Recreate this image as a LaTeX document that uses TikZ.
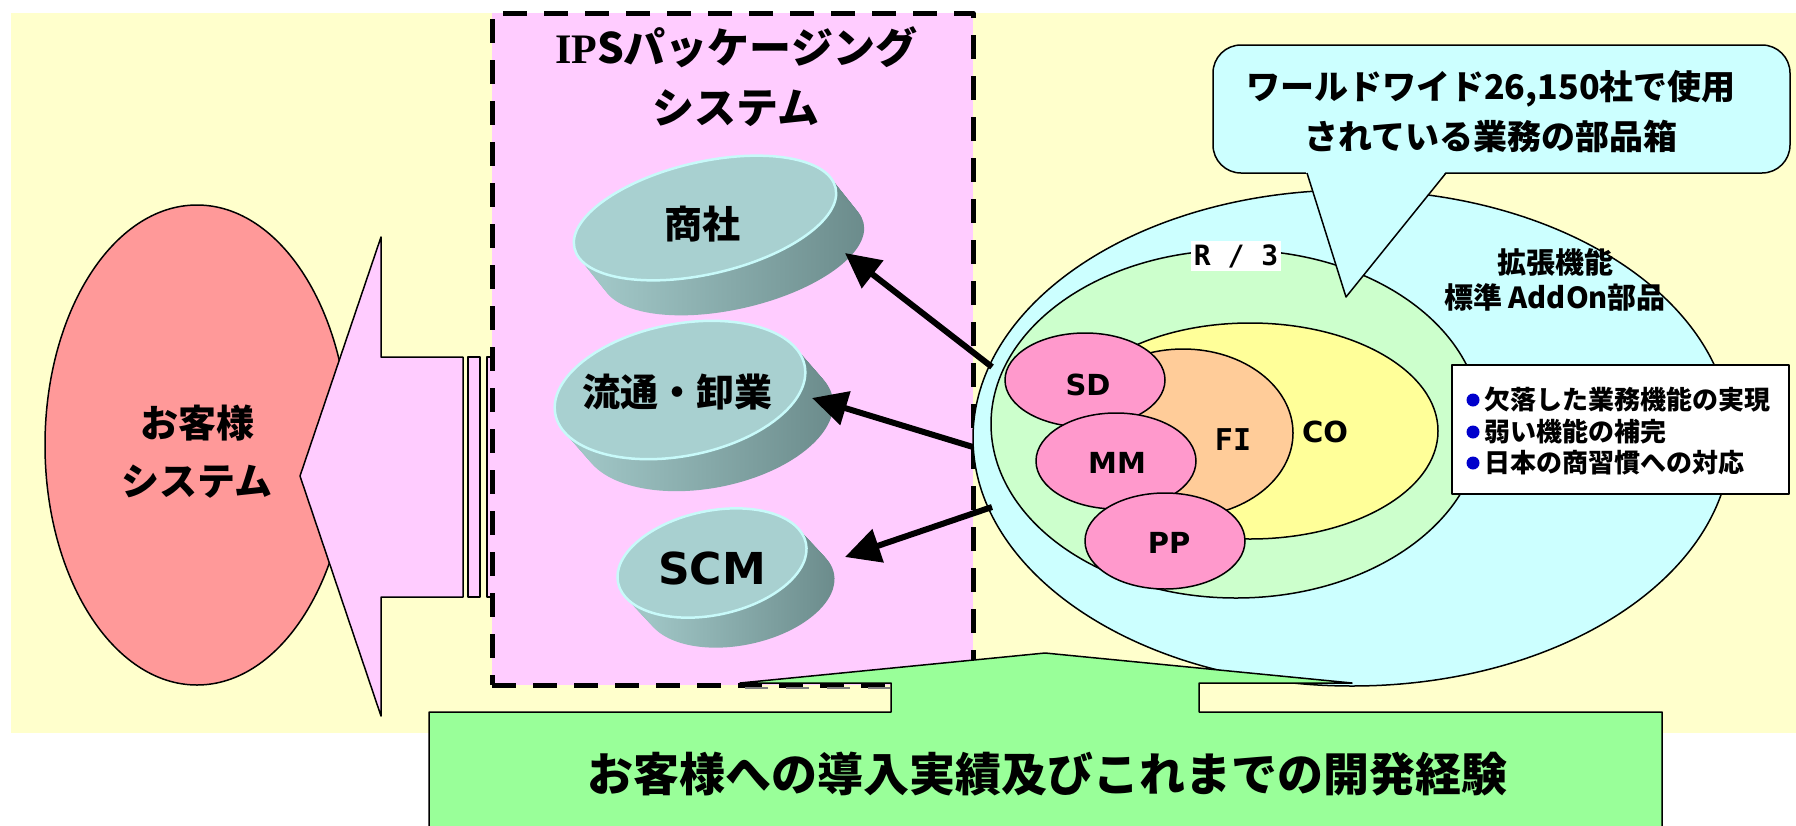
\documentclass[tikz,border=0pt]{standalone}
\usepackage{fontspec}
\setmainfont{Noto Sans CJK JP}
\newfontfamily\dvs{DejaVu Sans}
\newfontfamily\dvm{DejaVu Sans Mono}
\newfontfamily\lser{Liberation Serif}
\usetikzlibrary{arrows.meta,shapes.geometric}
\definecolor{bgy}{HTML}{FFFFCC}
\definecolor{pinkf}{HTML}{FFCCFF}
\definecolor{redf}{HTML}{FF9999}
\definecolor{cyanf}{HTML}{CCFFFF}
\definecolor{greenf}{HTML}{CCFFCC}
\definecolor{yelf}{HTML}{FFFF99}
\definecolor{orgf}{HTML}{FFCC99}
\definecolor{sapf}{HTML}{FF99CC}
\definecolor{boxg}{HTML}{99FF99}
\definecolor{tealtop}{HTML}{A8D0D0}
\definecolor{tealrim}{HTML}{C8FAFA}
\definecolor{teall}{HTML}{A2C8C8}
\definecolor{teald}{HTML}{6A8A8A}
\definecolor{bullb}{HTML}{0000CC}
\newcommand\fsz[2]{\fontsize{#1}{#2}\selectfont}
% cylinder: #1 name, #2 cx, #3 cy, #4 a, #5 b, #6 angle, #7 dx, #8 dy
\newcommand\mycyl[8]{%
  \foreach \k in {0,...,24}{%
    \begin{scope}[shift={({#2+#7*\k/24},{#3+#8*\k/24})}, rotate=#6]
      \shade[left color=teall, right color=teald] (0,0) ellipse [x radius=#4pt, y radius=#5pt];
    \end{scope}}%
  \node[ellipse, rotate=#6, fill=tealtop, draw=tealrim, line width=2.5pt,
        minimum width=2*#4pt, minimum height=2*#5pt, inner sep=0pt] (#1) at (#2,#3) {};%
}
\begin{document}
\begin{tikzpicture}[x=1pt,y=-1pt,line join=round,
  outl/.style={draw=black, line width=1.5pt},
  oval/.style={ellipse, outl, inner sep=0pt},
  jtxt/.style={inner sep=0pt, align=center, font=\bfseries},
  bigarrow/.style={line width=6pt, -{Triangle[length=35pt, width=34pt]}},
  bul/.style={circle, fill=bullb, inner sep=0pt, minimum size=13pt}]
\useasboundingbox (0,0) rectangle (1796,825);
\fill[white] (0,0) rectangle (1796,825);
\fill[bgy] (11,13) rectangle (1796,733);

% customer system
\node[oval, fill=redf, minimum width=304pt, minimum height=480pt] (cust) at (197,445) {};
\node[jtxt, font=\bfseries\fsz{38}{58}] (custt) at (197,452) {お客様\\システム};

% big pink arrow and bars
\draw[outl, fill=pinkf] (300,476) -- (381,237) -- (381,357) -- (463,357) -- (463,597)
   -- (381,597) -- (381,716) -- cycle;
\draw[outl, fill=pinkf] (468,357) rectangle (480,597);
\draw[outl, fill=pinkf] (487,357) rectangle (493,597);

% package box
\node[fill=pinkf, draw=black, line width=5pt, dash pattern=on 24pt off 17pt,
      minimum width=481pt, minimum height=672pt, inner sep=0pt] (pkg) at (732.5,349) {};
\node[jtxt, font=\bfseries\fsz{42}{60}] (pkgt) at (736,77) {{\lser\bfseries IP}Sパッケージング\\システム};

% cylinders
\mycyl{c1}{705}{218}{134}{56}{13}{28}{35}
\mycyl{c2}{680}{390}{127}{66}{11}{28}{32}
\mycyl{c3}{712}{563}{96}{52}{12}{28}{30}
\node[jtxt, font=\bfseries\fsz{38}{38}] (c1t) at (702,224) {商社};
\node[jtxt, font=\bfseries\fsz{38}{38}] (c2t) at (677,392) {流通・卸業};
\node[jtxt, font=\dvs\bfseries\fsz{44}{44}] (c3t) at (712,568) {SCM};

% SAP ellipses
\node[oval, fill=cyanf, minimum width=758pt, minimum height=496pt] (ext) at (1352,438) {};
\node[oval, fill=greenf, minimum width=490pt, minimum height=348pt] (r3) at (1236,424) {};
\node[oval, fill=yelf, minimum width=376pt, minimum height=216pt] (co) at (1250,431) {};
\node[oval, fill=orgf, minimum width=220pt, minimum height=168pt] (fi) at (1183,433) {};
\node[oval, fill=sapf, minimum width=160pt, minimum height=94pt] (sd) at (1085,380) {};
\node[oval, fill=sapf, minimum width=160pt, minimum height=96pt] (mm) at (1116,461) {};
\node[oval, fill=sapf, minimum width=160pt, minimum height=96pt] (pp) at (1165,541) {};
\node[jtxt, font=\dvs\bfseries\fsz{29}{29}] at (1088,385) {SD};
\node[jtxt, font=\dvs\bfseries\fsz{29}{29}] at (1117,463) {MM};
\node[jtxt, font=\dvs\bfseries\fsz{29}{29}] at (1169,543) {PP};
\node[jtxt, font=\dvm\bfseries\fsz{30}{30}] (fit) at (1233,440) {FI};
\node[jtxt, font=\dvs\bfseries\fsz{29}{29}] (cot) at (1325,432) {CO};
\node[fill=white, inner sep=3pt, font=\dvm\bfseries\fsz{28}{28}] (r3t) at (1236,256) {R / 3};
\node[jtxt, font=\bfseries\fsz{29}{35}] (extt) at (1555,280) {拡張機能\\標準 AddOn部品};

% top callout
\draw[outl, fill=cyanf, rounded corners=28pt] (1213,45) rectangle (1790,173);
\fill[cyanf] (1305,169) -- (1346,297) -- (1448,169) -- cycle;
\coordinate (ptip) at (1346,297);
\draw[outl] (1307,173) -- (ptip) -- (1446,173);
\node[jtxt, font=\bfseries\fsz{34}{50}] (callt) at (1491,112) {ワールドワイド26,150社で使用\\されている業務の部品箱};

% arrows
\coordinate (s1) at (992,367);  \coordinate (t1) at (845,253);
\coordinate (s2) at (973,447);  \coordinate (t2) at (812,398);
\coordinate (s3) at (992,507);  \coordinate (t3) at (845,557);
\draw[bigarrow] (s1) -- (t1);
\draw[bigarrow] (s2) -- (t2);
\draw[bigarrow] (s3) -- (t3);

% bottom green arrow box
\filldraw[outl, fill=boxg] (429,830) -- (429,712) -- (891,712) -- (891,683) -- (740,683)
   -- (1045,653) -- (1352,683) -- (1199,683) -- (1199,712) -- (1662,712) -- (1662,830);
\draw[gray, line width=1.2pt, dash pattern=on 23pt off 18pt] (745,688) -- (890,688);
\node[jtxt, font=\bfseries\fsz{46}{46}] (expt) at (1047,774) {お客様への導入実績及びこれまでの開発経験};

% bullet box
\node[draw=black, line width=1.5pt, fill=white, minimum width=337pt, minimum height=129pt,
      inner sep=0pt] (bbox) at (1620.5,429.5) {};
\node[bul] (b1) at (1473,400) {};
\node[bul] (b2) at (1473,432) {};
\node[bul] (b3) at (1473,463) {};
\node[jtxt, anchor=west, font=\bfseries\fsz{26}{26}] at (1484,400) {欠落した業務機能の実現};
\node[jtxt, anchor=west, font=\bfseries\fsz{26}{26}] at (1484,432) {弱い機能の補完};
\node[jtxt, anchor=west, font=\bfseries\fsz{26}{26}] at (1484,463) {日本の商習慣への対応};
\end{tikzpicture}
\end{document}
